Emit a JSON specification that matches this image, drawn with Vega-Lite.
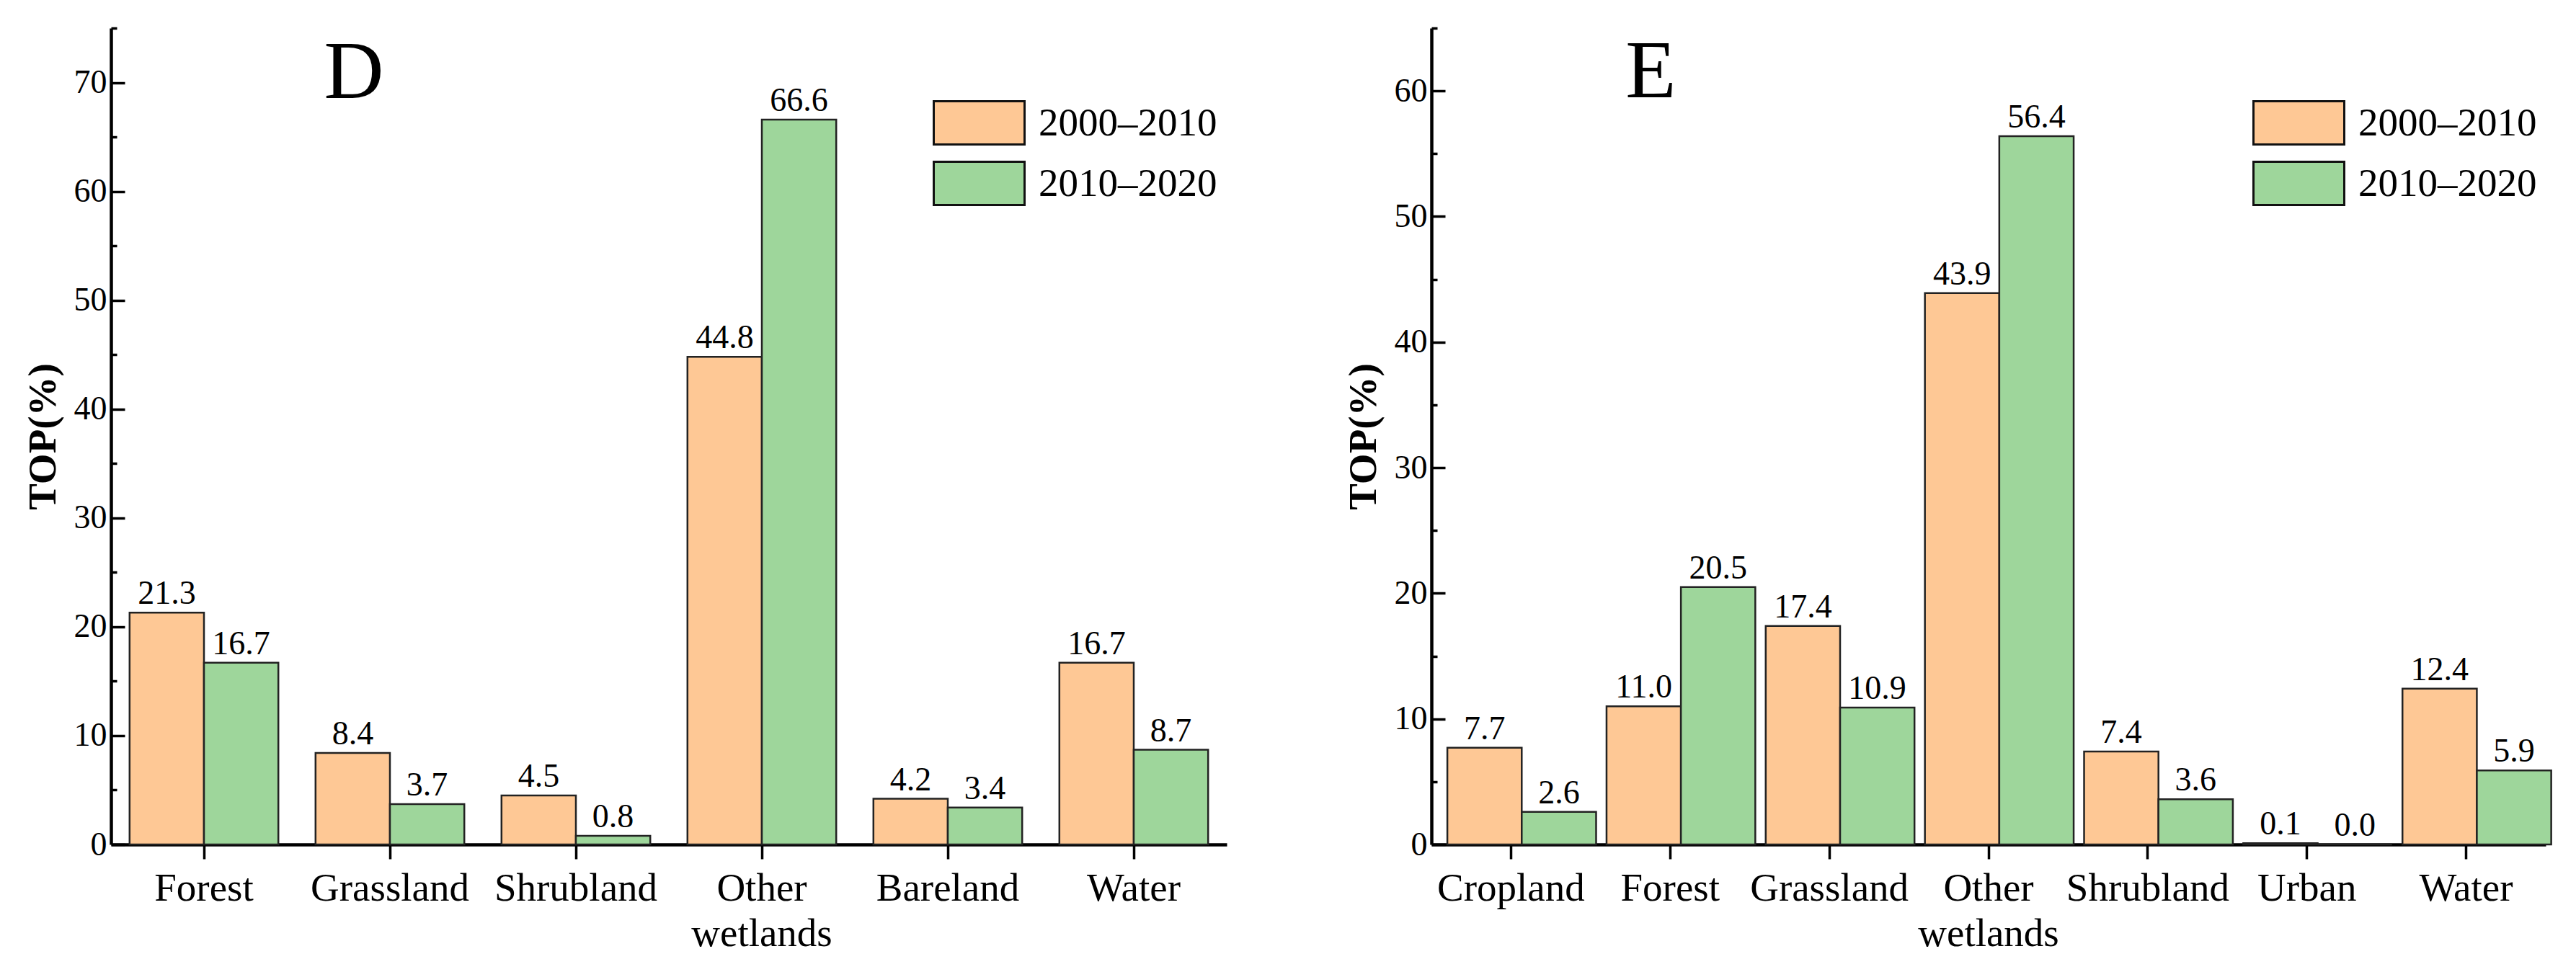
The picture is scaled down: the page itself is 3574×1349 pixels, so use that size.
{
  "$schema": "https://vega.github.io/schema/vega-lite/v6.json",
  "padding": {"left": 32, "top": 37, "right": 0, "bottom": 0},
  "background": "white",
  "config": {
    "font": "Liberation Serif",
    "view": {"stroke": null},
    "axis": {"domainColor": "#000", "domainWidth": 4.5, "tickColor": "#000", "tickWidth": 3.5, "labelColor": "#000", "titleColor": "#000", "grid": false, "labelFont": "Liberation Serif", "titleFont": "Liberation Serif", "labelLimit": 0},
    "legend": {"labelFont": "Liberation Serif"}
  },
  "data": {"values": [
    {"panel": "D", "cat": "Forest", "period": "2000–2010", "value": 21.3},
    {"panel": "D", "cat": "Forest", "period": "2010–2020", "value": 16.7},
    {"panel": "D", "cat": "Grassland", "period": "2000–2010", "value": 8.4},
    {"panel": "D", "cat": "Grassland", "period": "2010–2020", "value": 3.7},
    {"panel": "D", "cat": "Shrubland", "period": "2000–2010", "value": 4.5},
    {"panel": "D", "cat": "Shrubland", "period": "2010–2020", "value": 0.8},
    {"panel": "D", "cat": "Other wetlands", "period": "2000–2010", "value": 44.8},
    {"panel": "D", "cat": "Other wetlands", "period": "2010–2020", "value": 66.6},
    {"panel": "D", "cat": "Bareland", "period": "2000–2010", "value": 4.2},
    {"panel": "D", "cat": "Bareland", "period": "2010–2020", "value": 3.4},
    {"panel": "D", "cat": "Water", "period": "2000–2010", "value": 16.7},
    {"panel": "D", "cat": "Water", "period": "2010–2020", "value": 8.7},
    {"panel": "E", "cat": "Cropland", "period": "2000–2010", "value": 7.7},
    {"panel": "E", "cat": "Cropland", "period": "2010–2020", "value": 2.6},
    {"panel": "E", "cat": "Forest", "period": "2000–2010", "value": 11.0},
    {"panel": "E", "cat": "Forest", "period": "2010–2020", "value": 20.5},
    {"panel": "E", "cat": "Grassland", "period": "2000–2010", "value": 17.4},
    {"panel": "E", "cat": "Grassland", "period": "2010–2020", "value": 10.9},
    {"panel": "E", "cat": "Other wetlands", "period": "2000–2010", "value": 43.9},
    {"panel": "E", "cat": "Other wetlands", "period": "2010–2020", "value": 56.4},
    {"panel": "E", "cat": "Shrubland", "period": "2000–2010", "value": 7.4},
    {"panel": "E", "cat": "Shrubland", "period": "2010–2020", "value": 3.6},
    {"panel": "E", "cat": "Urban", "period": "2000–2010", "value": 0.1},
    {"panel": "E", "cat": "Urban", "period": "2010–2020", "value": 0.0},
    {"panel": "E", "cat": "Water", "period": "2000–2010", "value": 12.4},
    {"panel": "E", "cat": "Water", "period": "2010–2020", "value": 5.9}
  ]},
  "spacing": 162,
  "resolve": {"scale": {"x": "independent", "y": "independent", "color": "shared"}, "legend": {"color": "independent"}},
  "hconcat": [
    {
      "width": 1548, "height": 1133,
      "transform": [{"filter": "datum.panel == 'D'"}],
      "layer": [
        {"mark": {"type": "bar", "stroke": "#222", "strokeWidth": 2.5},
         "encoding": {
          "x": {"field": "cat", "type": "nominal", "sort": ["Forest", "Grassland", "Shrubland", "Other wetlands", "Bareland", "Water"],
            "scale": {"paddingInner": 0.2, "paddingOuter": 0.1},
            "axis": {"title": null, "labelAngle": 0, "labelFontSize": 55, "labelPadding": 14, "tickSize": 20, "labelLineHeight": 63, "labelLimit": 0,
              "labelExpr": "datum.value == 'Other wetlands' ? ['Other', 'wetlands'] : datum.value"}},
          "xOffset": {"field": "period", "type": "nominal", "sort": ["2000–2010", "2010–2020"]},
          "y": {"field": "value", "type": "quantitative",
            "scale": {"domain": [0, 75], "nice": false, "zero": true},
            "axis": {"title": "TOP(%)", "titleFontSize": 55, "titleFontWeight": "bold", "titlePadding": 14,
              "values": [0, 5, 10, 15, 20, 25, 30, 35, 40, 45, 50, 55, 60, 65, 70, 75],
              "labelExpr": "datum.value % 10 === 0 ? datum.label : ''",
              "labelFontSize": 46, "labelPadding": 25,
              "tickSize": {"condition": {"test": "datum.value % 10 === 0", "value": -19}, "value": -8}}},
          "color": {"field": "period", "type": "nominal", "sort": ["2000–2010", "2010–2020"],
           "scale": {"domain": ["2000–2010", "2010–2020"], "range": ["#FEC895", "#9ED69B"]},
           "legend": {"title": null, "orient": "none", "legendX": 1173, "legendY": 100, "padding": 0,
             "symbolType": "M-2.1,-1H2.1V1H-2.1Z", "symbolSize": 3600, "symbolStrokeColor": "#111", "symbolStrokeWidth": 3,
             "symbolOpacity": 1, "labelFontSize": 55, "labelOffset": 51, "rowPadding": 11, "labelColor": "#000", "labelLimit": 0}}}},
        {"mark": {"type": "text", "baseline": "alphabetic", "dy": -12, "fontSize": 46, "color": "#000"},
         "encoding": {
          "x": {"field": "cat", "type": "nominal", "sort": ["Forest", "Grassland", "Shrubland", "Other wetlands", "Bareland", "Water"]},
          "xOffset": {"field": "period", "type": "nominal", "sort": ["2000–2010", "2010–2020"]},
          "y": {"field": "value", "type": "quantitative"},
          "text": {"field": "value", "type": "quantitative", "format": ".1f"}}},
        {"data": {"values": [{"panel": "D", "letter": "D"}]},
         "mark": {"type": "text", "baseline": "alphabetic", "align": "center", "fontSize": 115, "color": "#000", "dx": -50},
         "encoding": {
          "x": {"datum": "Grassland", "type": "nominal"},
          "y": {"datum": 68.6, "type": "quantitative"},
          "text": {"field": "letter", "type": "nominal"}}}
      ]
    },
    {
      "width": 1546, "height": 1133,
      "transform": [{"filter": "datum.panel == 'E'"}],
      "layer": [
        {"mark": {"type": "bar", "stroke": "#222", "strokeWidth": 2.5},
         "encoding": {
          "x": {"field": "cat", "type": "nominal", "sort": ["Cropland", "Forest", "Grassland", "Other wetlands", "Shrubland", "Urban", "Water"],
            "scale": {"paddingInner": 0.2, "paddingOuter": 0.1},
            "axis": {"title": null, "labelAngle": 0, "labelFontSize": 55, "labelPadding": 14, "tickSize": 20, "labelLineHeight": 63, "labelLimit": 0,
              "labelExpr": "datum.value == 'Other wetlands' ? ['Other', 'wetlands'] : datum.value"}},
          "xOffset": {"field": "period", "type": "nominal", "sort": ["2000–2010", "2010–2020"]},
          "y": {"field": "value", "type": "quantitative",
            "scale": {"domain": [0, 65], "nice": false, "zero": true},
            "axis": {"title": "TOP(%)", "titleFontSize": 55, "titleFontWeight": "bold", "titlePadding": 14,
              "values": [0, 5, 10, 15, 20, 25, 30, 35, 40, 45, 50, 55, 60, 65],
              "labelExpr": "datum.value % 10 === 0 ? datum.label : ''",
              "labelFontSize": 46, "labelPadding": 25,
              "tickSize": {"condition": {"test": "datum.value % 10 === 0", "value": -19}, "value": -8}}},
          "color": {"field": "period", "type": "nominal", "sort": ["2000–2010", "2010–2020"],
           "scale": {"domain": ["2000–2010", "2010–2020"], "range": ["#FEC895", "#9ED69B"]},
           "legend": {"title": null, "orient": "none", "legendX": 1172, "legendY": 100, "padding": 0,
             "symbolType": "M-2.1,-1H2.1V1H-2.1Z", "symbolSize": 3600, "symbolStrokeColor": "#111", "symbolStrokeWidth": 3,
             "symbolOpacity": 1, "labelFontSize": 55, "labelOffset": 51, "rowPadding": 11, "labelColor": "#000", "labelLimit": 0}}}},
        {"mark": {"type": "text", "baseline": "alphabetic", "dy": -12, "fontSize": 46, "color": "#000"},
         "encoding": {
          "x": {"field": "cat", "type": "nominal", "sort": ["Cropland", "Forest", "Grassland", "Other wetlands", "Shrubland", "Urban", "Water"]},
          "xOffset": {"field": "period", "type": "nominal", "sort": ["2000–2010", "2010–2020"]},
          "y": {"field": "value", "type": "quantitative"},
          "text": {"field": "value", "type": "quantitative", "format": ".1f"}}},
        {"data": {"values": [{"panel": "E", "letter": "E"}]},
         "mark": {"type": "text", "baseline": "alphabetic", "align": "center", "fontSize": 115, "color": "#000", "dx": -27},
         "encoding": {
          "x": {"datum": "Forest", "type": "nominal"},
          "y": {"datum": 59.5, "type": "quantitative"},
          "text": {"field": "letter", "type": "nominal"}}}
      ]
    }
  ]
}
